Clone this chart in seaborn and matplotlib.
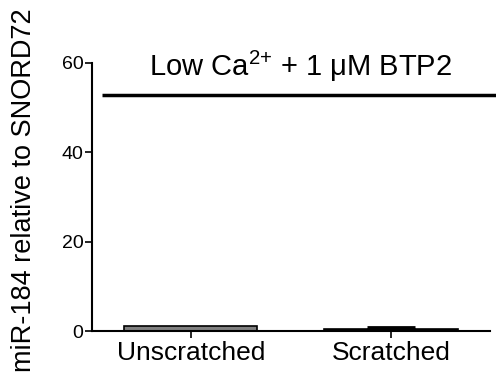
import numpy as np
import pandas as pd
import matplotlib
matplotlib.use("Agg")
import matplotlib.pyplot as plt
import seaborn as sns

# Data
groups = ["Unscratched", "Scratched"]
means = [1.1, 0.55]
errors = [0.0, 0.45]
bar_colors = ["#808080", "#000000"]
line_level = 52.8

df = pd.DataFrame({"group": groups, "value": means})

sns.set_style("ticks")
plt.rcParams["font.family"] = ["Liberation Sans", "DejaVu Sans"]
plt.rcParams["mathtext.fontset"] = "custom"
plt.rcParams["mathtext.rm"] = "Liberation Sans"
plt.rcParams["mathtext.it"] = "Liberation Sans:italic"
plt.rcParams["text.color"] = "black"
plt.rcParams["axes.labelcolor"] = "black"
plt.rcParams["xtick.color"] = "black"
plt.rcParams["ytick.color"] = "black"
plt.rcParams["axes.edgecolor"] = "black"

fig = plt.figure(figsize=(4.96, 3.84), dpi=100)
ax = fig.add_axes([0.185, 0.138, 0.803, 0.698])

sns.barplot(data=df, x="group", y="value", hue="group", palette=bar_colors,
            width=0.665, edgecolor="black", linewidth=1.2, errorbar=None,
            legend=False, ax=ax)
# only the scratched bar shows an error cap
ax.errorbar([1], [means[1]], yerr=[[0], [errors[1]]],
            fmt="none", ecolor="black", elinewidth=1.5, capsize=17, capthick=2)

# horizontal bar across the chart and the condition label
ax.hlines(line_level, -0.445, 1.53, color="black", linewidth=2.5, clip_on=False)
ax.text(0.55, 59.2, "Low Ca$^{2\\!+}\\!$ + 1 \u03bcM BTP2", ha="center",
        va="center", fontsize=21)

ax.set_xlim(-0.495, 1.495)
ax.set_ylim(0, 60)
ax.set_yticks([0, 20, 40, 60])
ax.set_xlabel("")
ax.set_ylabel("miR-184 relative to SNORD72", fontsize=19.5)
ax.yaxis.set_label_coords(-0.138, 0.526)
ax.tick_params(axis="y", labelsize=14, length=5, width=1.2, pad=1)
ax.tick_params(axis="x", labelsize=19, length=5, width=1.2, pad=2)
for s in ["left", "bottom"]:
    ax.spines[s].set_linewidth(1.5)
sns.despine(ax=ax)

fig.savefig("out.png", dpi=100)
